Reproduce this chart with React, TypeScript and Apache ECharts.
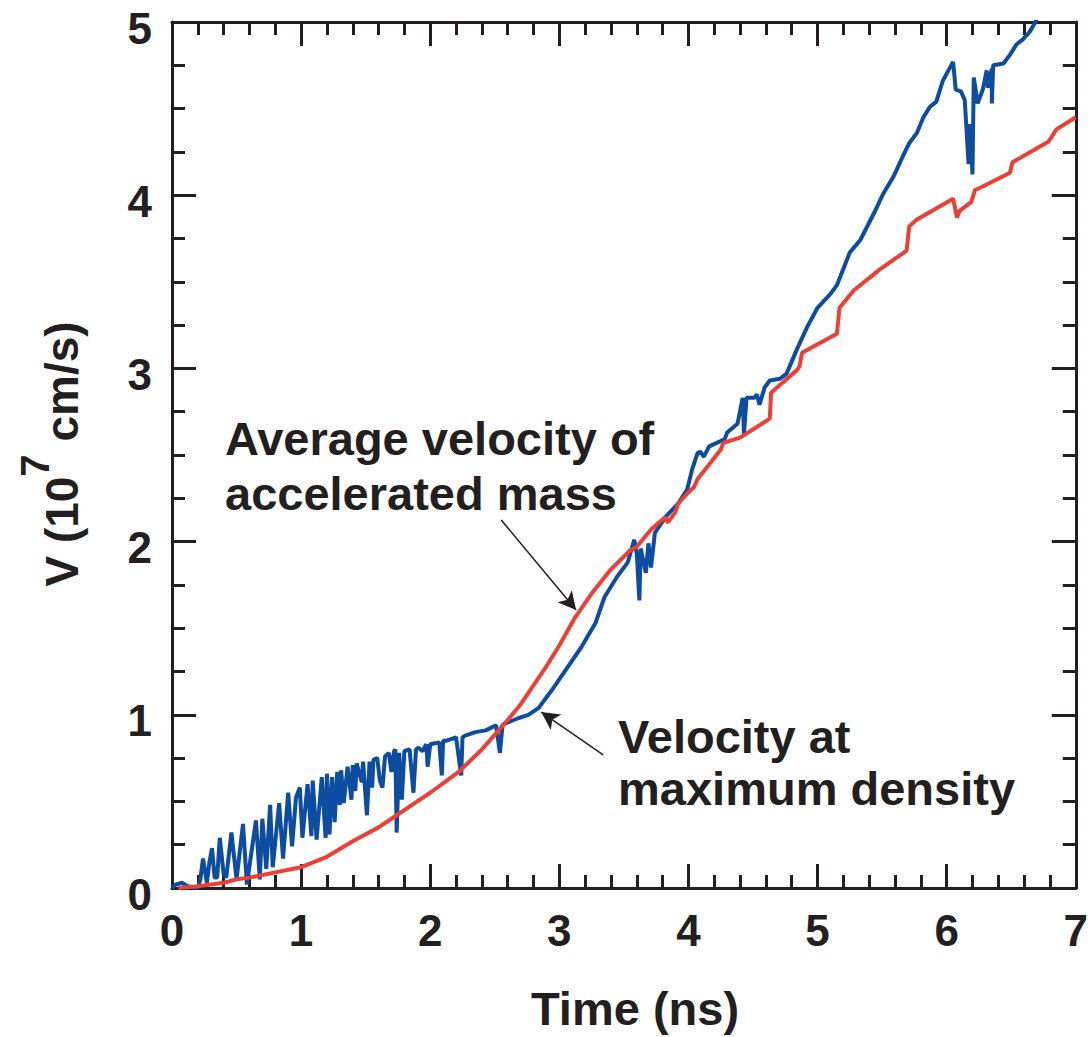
import React, { useEffect, useRef } from "react";
import * as echarts from "echarts";

const INK = "#231f20";
const BLUE = "#0c4da2";
const RED = "#ee3f35";

// Time axis ticks (ns) and velocity ticks (10^7 cm/s)
const xMin = 0, xMax = 7, xStep = 1;
const yMin = 0, yMax = 5, yStep = 1;

// Velocity at maximum density (blue)
const blueTime = [
  0.00, 0.03, 0.08, 0.12, 0.20, 0.22, 0.24, 0.27, 0.29, 0.31, 0.33, 0.35, 0.37, 0.40, 0.42, 0.46, 0.50,
  0.55, 0.58, 0.65, 0.68, 0.70, 0.73, 0.76, 0.78, 0.83, 0.86, 0.90, 0.93, 0.96, 0.99, 1.01, 1.05, 1.08,
  1.09, 1.12, 1.16, 1.19, 1.20, 1.22, 1.24, 1.26, 1.28, 1.30, 1.31, 1.33, 1.36, 1.39, 1.40, 1.42, 1.43,
  1.47, 1.48, 1.51, 1.53, 1.55, 1.56, 1.59, 1.61, 1.63, 1.65, 1.68, 1.70, 1.72, 1.73, 1.74, 1.76, 1.78,
  1.80, 1.84, 1.87, 1.89, 1.91, 1.94, 1.97, 1.98, 2.00, 2.07, 2.09, 2.10, 2.12, 2.20, 2.24, 2.25, 2.27,
  2.35, 2.43, 2.51, 2.54, 2.56, 2.58, 2.68, 2.76, 2.84, 2.94, 3.05, 3.17, 3.28, 3.35, 3.45, 3.53, 3.58,
  3.60, 3.62, 3.63, 3.67, 3.69, 3.71, 3.74, 3.82, 3.92, 3.99, 4.03, 4.07, 4.09, 4.12, 4.16, 4.28, 4.30,
  4.38, 4.42, 4.43, 4.45, 4.51, 4.53, 4.55, 4.59, 4.63, 4.71, 4.76, 4.84, 4.92, 5.00, 5.10, 5.15, 5.25,
  5.33, 5.44, 5.51, 5.59, 5.67, 5.71, 5.77, 5.82, 5.87, 5.92, 5.97, 6.05, 6.07, 6.11, 6.14, 6.17, 6.18,
  6.20, 6.21, 6.24, 6.28, 6.31, 6.32, 6.35, 6.35, 6.36, 6.44, 6.49, 6.54, 6.59, 6.64, 6.68, 6.72,
];
const blueVel = [
  0.00, 0.02, 0.03, 0.01, 0.00, 0.05, 0.17, 0.03, 0.15, 0.23, 0.06, 0.06, 0.29, 0.08, 0.06, 0.32, 0.05,
  0.37, 0.02, 0.39, 0.05, 0.40, 0.11, 0.48, 0.12, 0.49, 0.17, 0.55, 0.24, 0.52, 0.58, 0.29, 0.60, 0.30,
  0.62, 0.28, 0.64, 0.29, 0.66, 0.31, 0.64, 0.38, 0.67, 0.48, 0.68, 0.49, 0.70, 0.51, 0.71, 0.56, 0.72,
  0.61, 0.73, 0.42, 0.73, 0.58, 0.74, 0.75, 0.62, 0.58, 0.76, 0.78, 0.67, 0.79, 0.80, 0.32, 0.78, 0.51,
  0.79, 0.80, 0.55, 0.80, 0.81, 0.79, 0.83, 0.70, 0.83, 0.84, 0.65, 0.85, 0.85, 0.87, 0.65, 0.87, 0.88,
  0.90, 0.91, 0.94, 0.78, 0.94, 0.95, 0.98, 1.00, 1.04, 1.14, 1.26, 1.39, 1.53, 1.68, 1.80, 1.88, 2.01,
  1.93, 1.66, 1.96, 1.82, 1.99, 1.85, 2.05, 2.14, 2.22, 2.30, 2.42, 2.51, 2.52, 2.49, 2.55, 2.59, 2.63,
  2.68, 2.83, 2.62, 2.83, 2.83, 2.85, 2.79, 2.89, 2.93, 2.94, 2.97, 3.11, 3.24, 3.35, 3.43, 3.48, 3.67,
  3.74, 3.90, 4.01, 4.11, 4.24, 4.30, 4.36, 4.45, 4.51, 4.54, 4.66, 4.77, 4.61, 4.60, 4.55, 4.18, 4.41,
  4.12, 4.68, 4.53, 4.61, 4.72, 4.62, 4.73, 4.53, 4.75, 4.76, 4.81, 4.87, 4.90, 4.94, 4.99, 5.05,
];

// Average velocity of accelerated mass (red)
const redTime = [
  0.05, 0.20, 0.40, 0.50, 0.60, 0.80, 1.00, 1.20, 1.40, 1.60, 1.70, 1.90, 2.00, 2.22, 2.40, 2.53, 2.60,
  2.70, 2.80, 2.90, 3.00, 3.12, 3.25, 3.40, 3.55, 3.60, 3.71, 3.82, 3.84, 3.90, 3.92, 4.02, 4.04, 4.07,
  4.25, 4.27, 4.40, 4.63, 4.64, 4.84, 4.86, 4.88, 5.15, 5.17, 5.28, 5.48, 5.69, 5.71, 5.77, 6.05, 6.08,
  6.10, 6.19, 6.22, 6.28, 6.49, 6.51, 6.79, 6.85, 7.00,
];
const redVel = [
  0.00, 0.01, 0.03, 0.05, 0.06, 0.09, 0.12, 0.18, 0.27, 0.35, 0.40, 0.50, 0.55, 0.67, 0.80, 0.91, 0.97,
  1.06, 1.17, 1.28, 1.40, 1.56, 1.70, 1.84, 1.95, 1.97, 2.07, 2.14, 2.11, 2.17, 2.22, 2.30, 2.31, 2.36,
  2.53, 2.57, 2.60, 2.71, 2.86, 2.99, 3.01, 3.09, 3.20, 3.35, 3.45, 3.57, 3.68, 3.82, 3.86, 3.98, 3.87,
  3.91, 3.96, 4.03, 4.05, 4.13, 4.19, 4.31, 4.38, 4.45,
];

// Annotation arrows: [fromTime, fromVel, toTime, toVel]
const arrowAvg = [2.55, 2.125, 3.13, 1.605];
const arrowMax = [3.34, 0.768, 2.86, 1.016];

const FONT = "'Liberation Sans', Arial, Helvetica, sans-serif";

function axisBase(minorSplit: number) {
  return {
    type: "value",
    axisLine: { show: true, onZero: false, lineStyle: { color: INK, width: 3 } },
    axisTick: { show: true, inside: true, length: 24, lineStyle: { color: INK, width: 3 } },
    minorTick: { show: true, splitNumber: minorSplit, length: 13, lineStyle: { color: INK, width: 3 } },
    splitLine: { show: false },
    minorSplitLine: { show: false },
  };
}

export default function App() {
  const ref = useRef<HTMLDivElement>(null);
  useEffect(() => {
    document.body.style.margin = "0";
    const chart = echarts.init(ref.current!, null, { renderer: "svg" });
    const label = { fontSize: 44, fontWeight: "bold", color: INK, fontFamily: FONT };
    const blue = blueTime.map((t, i) => [t, blueVel[i]]);
    const red = redTime.map((t, i) => [t, redVel[i]]);
    const textStyle = (s: string, x: number, y: number, extra: any = {}) => ({
      type: "text",
      x,
      y,
      style: {
        text: s,
        font: `bold 47px ${FONT}`,
        fill: INK,
        align: "left",
        verticalAlign: "middle",
        ...extra,
      },
    });
    chart.setOption({
      animation: false,
      grid: { left: 172, top: 22, width: 908, height: 866, containLabel: false },
      xAxis: [
        {
          ...axisBase(5),
          min: xMin,
          max: xMax,
          interval: xStep,
          position: "bottom",
          axisLabel: { ...label, margin: 20 },
        },
        {
          ...axisBase(5),
          min: xMin,
          max: xMax,
          interval: xStep,
          position: "top",
          axisLabel: { show: false },
        },
      ],
      yAxis: [
        {
          ...axisBase(4),
          min: yMin,
          max: yMax,
          interval: yStep,
          position: "left",
          axisLabel: {
            ...label,
            margin: 20,
            formatter: "{v|{value}}",
            rich: { v: { ...label, padding: [12, 0, 0, 0] } },
          },
        },
        {
          ...axisBase(4),
          min: yMin,
          max: yMax,
          interval: yStep,
          position: "right",
          axisLabel: { show: false },
        },
      ],
      series: [
        {
          type: "line",
          data: blue,
          showSymbol: false,
          symbol: "none",
          lineStyle: { color: BLUE, width: 4 },
          clip: true,
          z: 3,
        },
        {
          type: "line",
          data: red,
          showSymbol: false,
          symbol: "none",
          lineStyle: { color: RED, width: 4 },
          clip: true,
          z: 4,
          markLine: {
            silent: true,
            symbol: ["none", "arrow"],
            symbolSize: [14, 18],
            label: { show: false },
            lineStyle: { color: INK, width: 1.5, type: "solid" },
            data: [
              [{ coord: [arrowAvg[0], arrowAvg[1]] }, { coord: [arrowAvg[2], arrowAvg[3]] }],
              [{ coord: [arrowMax[0], arrowMax[1]] }, { coord: [arrowMax[2], arrowMax[3]] }],
            ],
          },
        },
      ],
      graphic: [
        textStyle("Average velocity of", 225, 438),
        textStyle("accelerated mass", 225, 493),
        textStyle("Velocity at", 618, 736),
        textStyle("maximum density", 618, 788),
        textStyle("Time (ns)", 635, 1008, { align: "center" }),
        {
          type: "text",
          x: 50,
          y: 454,
          rotation: Math.PI / 2,
          style: {
            text: "{a|V (10}{b|7}{a| cm/s)}",
            align: "center",
            verticalAlign: "middle",
            fill: INK,
            rich: {
              a: { fontSize: 46, fontWeight: "bold", fontFamily: FONT, lineHeight: 70, verticalAlign: "bottom", fill: INK, color: INK },
              b: { fontSize: 40, fontWeight: "bold", fontFamily: FONT, lineHeight: 36, verticalAlign: "top", fill: INK, color: INK },
            },
          },
        },
      ],
    });
    return () => chart.dispose();
  }, []);
  return <div ref={ref} style={{ width: 1091, height: 1037 }} />;
}
